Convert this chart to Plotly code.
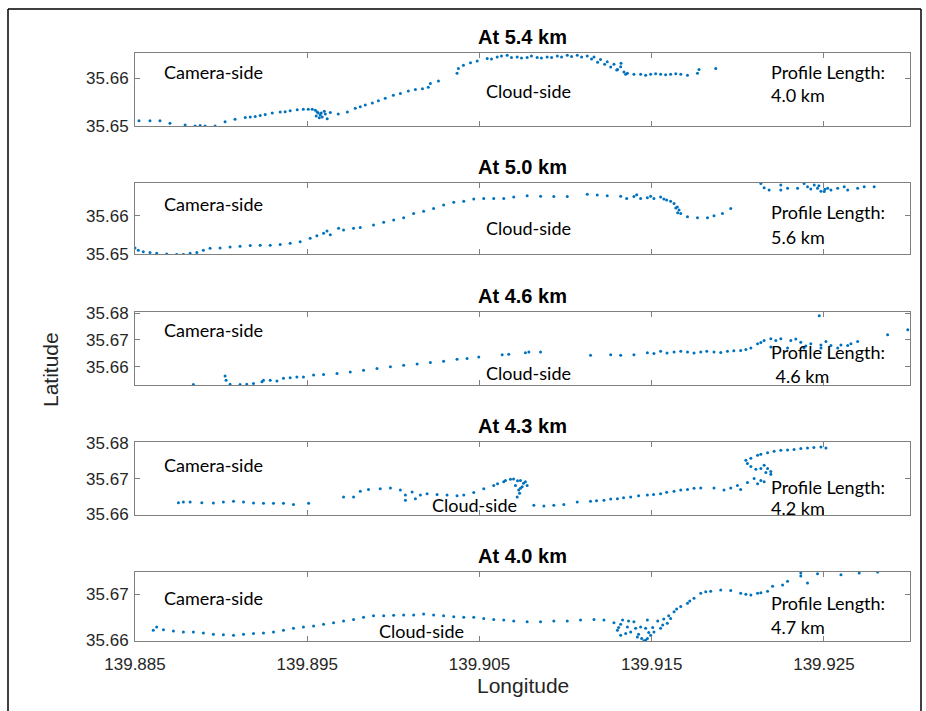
import plotly.graph_objects as go

# ---- scatter points (longitude, latitude) for each altitude slice ----
lon_54 = [139.88523, 139.88587, 139.88645, 139.88703, 139.88791, 139.88849, 139.88878, 139.88907,
          139.88965, 139.89023, 139.89081, 139.89140, 139.89169, 139.89198, 139.89227, 139.89256,
          139.89297, 139.89343, 139.89372, 139.89401, 139.89442, 139.89477, 139.89506, 139.89529,
          139.89547, 139.89558, 139.89564, 139.89576, 139.89587, 139.89605, 139.89634, 139.89680,
          139.89733, 139.89779, 139.89808, 139.89837, 139.89878, 139.89913, 139.89953, 139.90000,
          139.90041, 139.90087, 139.90128, 139.90169, 139.90203, 139.90215, 139.90262, 139.90370,
          139.90378, 139.90407, 139.90448, 139.90487, 139.90545, 139.90603, 139.90661, 139.90719,
          139.90777, 139.90835, 139.90893, 139.90952, 139.91010, 139.91068, 139.91126, 139.91165,
          139.91203, 139.91242, 139.91281, 139.91302, 139.91320, 139.91322, 139.91339, 139.91359,
          139.91397, 139.91436, 139.91494, 139.91552, 139.91610, 139.91669, 139.91708, 139.91766,
          139.91775, 139.91872,
          139.90570, 139.90628, 139.90686, 139.90744, 139.90802, 139.90860, 139.90919, 139.90977,
          139.91035, 139.91093, 139.91151, 139.91186, 139.91227, 139.91262, 139.91297, 139.91349,
          139.91465, 139.91523, 139.91581, 139.91640,
          139.89570, 139.89581, 139.89599, 139.89552, 139.89616]
lat_54 = [35.6511, 35.6511, 35.6511, 35.6506, 35.6502, 35.6500, 35.6501, 35.6500,
          35.6500, 35.6509, 35.6514, 35.6518, 35.6519, 35.6520, 35.6522, 35.6524,
          35.6527, 35.6529, 35.6530, 35.6532, 35.6534, 35.6535, 35.6535, 35.6535,
          35.6533, 35.6529, 35.6527, 35.6523, 35.6519, 35.6525, 35.6528, 35.6525,
          35.6529, 35.6537, 35.6540, 35.6544, 35.6548, 35.6553, 35.6558, 35.6564,
          35.6568, 35.6573, 35.6576, 35.6578, 35.6581, 35.6589, 35.6594, 35.6610,
          35.6620, 35.6627, 35.6632, 35.6636, 35.6641, 35.6644, 35.6648, 35.6644,
          35.6643, 35.6643, 35.6644, 35.6646, 35.6648, 35.6648, 35.6646, 35.6644,
          35.6639, 35.6634, 35.6629, 35.6618, 35.6624, 35.6631, 35.6613, 35.6610,
          35.6608, 35.6608, 35.6608, 35.6608, 35.6608, 35.6608, 35.6606, 35.6610,
          35.6618, 35.6620,
          35.6640, 35.6646, 35.6643, 35.6642, 35.6646, 35.6642, 35.6643, 35.6644,
          35.6645, 35.6644, 35.6640, 35.6633, 35.6629, 35.6623, 35.6617, 35.6608,
          35.6606, 35.6609, 35.6607, 35.6609,
          35.6517, 35.6527, 35.6531, 35.6521, 35.6515]

lon_50 = [139.88500, 139.88519, 139.88548, 139.88587, 139.88626, 139.88684, 139.88742, 139.88781,
          139.88820, 139.88859, 139.88897, 139.88936, 139.88994, 139.89052, 139.89110, 139.89169,
          139.89227, 139.89285, 139.89343, 139.89401, 139.89459, 139.89517, 139.89556, 139.89595,
          139.89615, 139.89634, 139.89682, 139.89711, 139.89769, 139.89808, 139.89885, 139.89944,
          139.90002, 139.90060, 139.90118, 139.90176, 139.90234, 139.90292, 139.90351, 139.90409,
          139.90467, 139.90525, 139.90583, 139.90641,
          139.90699, 139.90777, 139.90855, 139.90932, 139.91010, 139.91126, 139.91184, 139.91242,
          139.91320, 139.91397, 139.91436, 139.91475, 139.91513, 139.91571, 139.91610, 139.91630,
          139.91649, 139.91659, 139.91669, 139.91708, 139.91766, 139.91824, 139.91862, 139.91911,
          139.91959,
          139.92134, 139.92153, 139.92182, 139.92250, 139.92250, 139.92289, 139.92347, 139.92385,
          139.92405, 139.92444, 139.92463, 139.92483, 139.92502, 139.92522, 139.92541, 139.92580,
          139.92618, 139.92638, 139.92696, 139.92734, 139.92792,
          139.91355, 139.91413, 139.91494, 139.91552, 139.91587, 139.91640, 139.91651,
          139.92424, 139.92471, 139.92506]
lat_50 = [35.6516, 35.6510, 35.6506, 35.6504, 35.6502, 35.6500, 35.6499, 35.6499,
          35.6502, 35.6504, 35.6510, 35.6515, 35.6516, 35.6518, 35.6520, 35.6522,
          35.6523, 35.6523, 35.6525, 35.6528, 35.6532, 35.6541, 35.6548, 35.6554,
          35.6560, 35.6550, 35.6567, 35.6563, 35.6567, 35.6569, 35.6576, 35.6583,
          35.6589, 35.6595, 35.6606, 35.6612, 35.6619, 35.6628, 35.6635, 35.6638,
          35.6644, 35.6645, 35.6645, 35.6645,
          35.6649, 35.6652, 35.6651, 35.6650, 35.6650, 35.6656, 35.6654, 35.6652,
          35.6651, 35.6650, 35.6645, 35.6647, 35.6645, 35.6644, 35.6638, 35.6632,
          35.6623, 35.6615, 35.6606, 35.6597, 35.6595, 35.6595, 35.6600, 35.6606,
          35.6619,
          35.6684, 35.6673, 35.6667, 35.6680, 35.6667, 35.6672, 35.6672, 35.6684,
          35.6676, 35.6680, 35.6672, 35.6664, 35.6663, 35.6672, 35.6667, 35.6672,
          35.6676, 35.6667, 35.6672, 35.6676, 35.6676,
          35.6645, 35.6655, 35.6651, 35.6649, 35.6641, 35.6620, 35.6608,
          35.6670, 35.6678, 35.6669]

lon_46 = [139.88839, 139.89023, 139.89029, 139.89052, 139.89110, 139.89149, 139.89188, 139.89237,
          139.89246, 139.89285, 139.89324, 139.89362, 139.89401, 139.89440, 139.89478, 139.89537,
          139.89595, 139.89673, 139.89750, 139.89827, 139.89905, 139.89983, 139.90060, 139.90138,
          139.90215, 139.90292, 139.90370, 139.90428, 139.90496, 139.90632, 139.90670, 139.90767,
          139.90787, 139.90855, 139.91145, 139.91262, 139.91320, 139.91397, 139.91475, 139.91552,
          139.91630, 139.91708, 139.91785, 139.91862, 139.91940, 139.92017, 139.92076, 139.92115,
          139.92153, 139.92192, 139.92250, 139.92308, 139.92366, 139.92424, 139.92483, 139.92541,
          139.92599, 139.92657, 139.92696, 139.92473, 139.92870, 139.92987,
          139.92192, 139.92289, 139.92385, 139.92483, 139.92580, 139.92638,
          139.91513, 139.91589, 139.91669, 139.91746, 139.91820, 139.91901, 139.91977, 139.92047,
          139.92134, 139.92221, 139.92337, 139.92395, 139.92512]
lat_46 = [35.6533, 35.6565, 35.6549, 35.6534, 35.6533, 35.6534, 35.6537, 35.6543,
          35.6549, 35.6549, 35.6546, 35.6556, 35.6558, 35.6561, 35.6561, 35.6568,
          35.6570, 35.6574, 35.6580, 35.6586, 35.6593, 35.6599, 35.6605, 35.6610,
          35.6615, 35.6620, 35.6627, 35.6630, 35.6636, 35.6644, 35.6646, 35.6652,
          35.6654, 35.6654, 35.6642, 35.6644, 35.6642, 35.6644, 35.6652, 35.6657,
          35.6654, 35.6654, 35.6654, 35.6654, 35.6657, 35.6660, 35.6669, 35.6685,
          35.6697, 35.6704, 35.6704, 35.6697, 35.6691, 35.6685, 35.6681, 35.6679,
          35.6681, 35.6685, 35.6694, 35.6790, 35.6719, 35.6738,
          35.6673, 35.6669, 35.6669, 35.6669, 35.6669, 35.6679,
          35.6649, 35.6651, 35.6657, 35.6651, 35.6657, 35.6653, 35.6659, 35.6664,
          35.6690, 35.6697, 35.6703, 35.6677, 35.6694]

lon_43 = [139.88752, 139.88781, 139.88820, 139.88888, 139.88955, 139.89013, 139.89072, 139.89130,
          139.89188, 139.89246, 139.89304, 139.89362, 139.89420, 139.89508, 139.89711, 139.89769,
          139.89808, 139.89856, 139.89924, 139.89983, 139.90041, 139.90070, 139.90070, 139.90109,
          139.90128, 139.90157, 139.90196, 139.90254, 139.90312, 139.90370, 139.90409, 139.90467,
          139.90525, 139.90583, 139.90641, 139.90680,
          139.90738, 139.90767, 139.90748, 139.90728, 139.90719, 139.90709, 139.90777,
          139.90816, 139.90874, 139.90932, 139.90990, 139.91068, 139.91145, 139.91223, 139.91301,
          139.91378, 139.91475, 139.91552, 139.91630, 139.91708, 139.91785, 139.91862, 139.91920,
          139.91959, 139.91998, 139.92017, 139.92056, 139.92095, 139.92115, 139.92153,
          139.92134, 139.92153, 139.92173, 139.92192,
          139.92056, 139.92047, 139.92076, 139.92115, 139.92173, 139.92250, 139.92327, 139.92405,
          139.92483, 139.92512,
          139.90605, 139.90651, 139.90698, 139.90721, 139.90756, 139.90738, 139.90733,
          139.92134, 139.92211, 139.92289, 139.92366, 139.92442,
          139.92076, 139.92105, 139.92163, 139.92134, 139.92192,
          139.91180, 139.91262, 139.91337, 139.91424, 139.91511, 139.91587, 139.91669, 139.91746]
lat_43 = [35.6633, 35.6635, 35.6635, 35.6633, 35.6632, 35.6635, 35.6637, 35.6635,
          35.6632, 35.6631, 35.6631, 35.6631, 35.6628, 35.6631, 35.6649, 35.6649,
          35.6665, 35.6670, 35.6672, 35.6674, 35.6668, 35.6654, 35.6640, 35.6663,
          35.6644, 35.6654, 35.6658, 35.6656, 35.6654, 35.6652, 35.6654, 35.6661,
          35.6672, 35.6681, 35.6691, 35.6698,
          35.6695, 35.6691, 35.6677, 35.6668, 35.6649, 35.6681, 35.6681,
          35.6626, 35.6624, 35.6626, 35.6628, 35.6635, 35.6637, 35.6640, 35.6644,
          35.6649, 35.6654, 35.6658, 35.6665, 35.6670, 35.6674, 35.6674, 35.6668,
          35.6674, 35.6681, 35.6670, 35.6689, 35.6700, 35.6686, 35.6691,
          35.6728, 35.6737, 35.6728, 35.6720,
          35.6742, 35.6751, 35.6757, 35.6765, 35.6772, 35.6779, 35.6781, 35.6785,
          35.6788, 35.6785,
          35.6686, 35.6695, 35.6699, 35.6694, 35.6687, 35.6673, 35.6659,
          35.6768, 35.6776, 35.6780, 35.6784, 35.6787,
          35.6734, 35.6726, 35.6717, 35.6695, 35.6712,
          35.6638, 35.6643, 35.6647, 35.6652, 35.6656, 35.6662, 35.6668, 35.6673]

lon_40 = [139.88606, 139.88626, 139.88665, 139.88723, 139.88781, 139.88839, 139.88897, 139.88955,
          139.89013, 139.89072, 139.89130, 139.89188, 139.89246, 139.89304, 139.89362, 139.89420,
          139.89478, 139.89537, 139.89595, 139.89653, 139.89711, 139.89769, 139.89827, 139.89885,
          139.89944, 139.90002, 139.90060, 139.90118, 139.90176, 139.90234, 139.90292, 139.90351,
          139.90409, 139.90467, 139.90525, 139.90583, 139.90641, 139.90699, 139.90777, 139.90855,
          139.90932, 139.91010, 139.91087, 139.91165, 139.91223, 139.91281, 139.91320, 139.91301,
          139.91320, 139.91359, 139.91378, 139.91397, 139.91417, 139.91436, 139.91455, 139.91475,
          139.91475, 139.91494, 139.91513, 139.91552, 139.91591, 139.91610, 139.91630, 139.91669,
          139.91708, 139.91746, 139.91785, 139.91843, 139.91901, 139.91959, 139.92017, 139.92076,
          139.92115, 139.92173, 139.92202, 139.92260, 139.92289, 139.92366, 139.92366, 139.92405,
          139.92463, 139.92599, 139.92705, 139.92812,
          139.91349, 139.91366, 139.91407, 139.91424, 139.91442, 139.91465, 139.91483, 139.91506,
          139.91535, 139.91564, 139.91308, 139.91331, 139.91465, 139.91570, 139.91599, 139.91645,
          139.91721, 139.91814, 139.92047, 139.92134]
lat_40 = [35.6622, 35.6629, 35.6623, 35.6620, 35.6618, 35.6618, 35.6616, 35.6613,
          35.6612, 35.6611, 35.6613, 35.6615, 35.6616, 35.6618, 35.6622, 35.6626,
          35.6629, 35.6631, 35.6635, 35.6638, 35.6642, 35.6645, 35.6650, 35.6653,
          35.6653, 35.6654, 35.6655, 35.6655, 35.6657, 35.6655, 35.6653, 35.6651,
          35.6650, 35.6650, 35.6647, 35.6645, 35.6644, 35.6642, 35.6640, 35.6640,
          35.6642, 35.6642, 35.6644, 35.6645, 35.6644, 35.6638, 35.6635, 35.6622,
          35.6611, 35.6629, 35.6618, 35.6640, 35.6607, 35.6629, 35.6599, 35.6644,
          35.6604, 35.6611, 35.6618, 35.6626, 35.6637, 35.6647, 35.6662, 35.6673,
          35.6680, 35.6691, 35.6702, 35.6706, 35.6709, 35.6708, 35.6702, 35.6698,
          35.6702, 35.6706, 35.6717, 35.6720, 35.6728, 35.6739, 35.6746, 35.6724,
          35.6744, 35.6742, 35.6746, 35.6748,
          35.6615, 35.6642, 35.6626, 35.6613, 35.6604, 35.6600, 35.6617, 35.6628,
          35.6642, 35.6633, 35.6628, 35.6644, 35.6626, 35.6646, 35.6653, 35.6668,
          35.6685, 35.6705, 35.6700, 35.6703]

titles = ["At 5.4 km", "At 5.0 km", "At 4.6 km", "At 4.3 km", "At 4.0 km"]
profile_lengths = ["4.0 km", "5.6 km", " 4.6 km", "4.2 km", "4.7 km"]
lat_ranges = [[35.6500, 35.66525], [35.6500, 35.66855], [35.6531, 35.6804],
              [35.6600, 35.6802], [35.65985, 35.6749]]
lat_ticks = [[35.65, 35.66], [35.65, 35.66], [35.66, 35.67, 35.68],
             [35.66, 35.67, 35.68], [35.66, 35.67]]
lon_ticks = [139.885, 139.895, 139.905, 139.915, 139.925]
lon_range = [139.885, 139.930]

panels = [(lon_54, lat_54), (lon_50, lat_50), (lon_46, lat_46), (lon_43, lat_43), (lon_40, lat_40)]

# ---- page geometry (pixels) ----
W, H = 926, 711
plot_left, plot_right = 135, 910
panel_px = [(53, 126), (183, 254), (312, 385), (442, 514.5), (571.5, 641)]
# label anchors per panel: camera-side y, cloud-side (x, y), profile title y, profile value (x, y)
label_px = [
    (71.7, (484, 90.7), 71.7, (769, 95.0)),
    (204.3, (484, 228.3), 212.3, (769, 236.7)),
    (330.0, (484, 373.3), 351.7, (769, 375.7)),
    (465.0, (430, 505.0), 486.7, (769, 508.3)),
    (597.7, (377, 630.7), 603.3, (769, 626.7)),
]

BLUE = "#0072BD"
AXIS_GRAY = "#808080"
TICK_FONT = dict(family="Liberation Sans, Arial, sans-serif", size=17, color="#262626")
NOTE_FONT = dict(family="Lato, sans-serif", size=18, color="#000000")


def px_x(x):
    return x / W


def px_y(y):
    return 1 - y / H


fig = go.Figure()
layout = dict(
    template="none",
    width=W, height=H, autosize=False,
    margin=dict(l=0, r=0, t=0, b=0, pad=0),
    paper_bgcolor="white", plot_bgcolor="white",
    showlegend=False,
)

annotations = []
for i, (lons, lats) in enumerate(panels):
    n = i + 1
    xa = "x" if n == 1 else f"x{n}"
    ya = "y" if n == 1 else f"y{n}"
    fig.add_trace(go.Scatter(
        x=lons, y=lats, mode="markers", xaxis=xa, yaxis=ya,
        marker=dict(size=3, color=BLUE, line=dict(width=0)),
        hoverinfo="skip", cliponaxis=True,
    ))
    top, bot = panel_px[i]
    last = (i == len(panels) - 1)
    layout["xaxis" if n == 1 else f"xaxis{n}"] = dict(
        domain=[px_x(plot_left), px_x(plot_right)],
        anchor=ya, range=lon_range, automargin=False,
        tickvals=lon_ticks, ticktext=[f"{v:.3f}" for v in lon_ticks],
        showticklabels=last, tickfont=TICK_FONT, ticklabelstandoff=8,
        ticks="inside", ticklen=5, tickcolor=AXIS_GRAY, tickwidth=1,
        showline=True, linecolor=AXIS_GRAY, linewidth=1, mirror="ticks",
        showgrid=False, zeroline=False, fixedrange=True,
    )
    layout["yaxis" if n == 1 else f"yaxis{n}"] = dict(
        domain=[px_y(bot), px_y(top)],
        anchor=xa, range=lat_ranges[i], automargin=False,
        tickvals=lat_ticks[i], ticktext=[f"{v:.2f}" for v in lat_ticks[i]],
        tickfont=TICK_FONT, ticklabelstandoff=2,
        ticks="inside", ticklen=5, tickcolor=AXIS_GRAY, tickwidth=1,
        showline=True, linecolor=AXIS_GRAY, linewidth=1, mirror="ticks",
        showgrid=False, zeroline=False, fixedrange=True,
    )
    # panel title
    annotations.append(dict(
        text=f"<b>{titles[i]}</b>", xref="paper", yref="paper",
        x=px_x((plot_left + plot_right) / 2), y=px_y(top - 16),
        xanchor="center", yanchor="middle", showarrow=False,
        font=dict(family="Liberation Sans, Arial, sans-serif", size=20, color="#000000"),
    ))
    cam_y, (cloud_x, cloud_y), prof_y, (val_x, val_y) = label_px[i]
    for txt, x, y in [("Camera-side", 162, cam_y), ("Cloud-side", cloud_x, cloud_y),
                      ("Profile Length:", 769, prof_y), (profile_lengths[i], val_x, val_y)]:
        annotations.append(dict(
            text=txt.replace(" ", "&nbsp;") if txt.startswith(" ") else txt,
            xref="paper", yref="paper", x=px_x(x), y=px_y(y),
            xanchor="left", yanchor="middle", showarrow=False, font=NOTE_FONT,
        ))

# axis titles
annotations.append(dict(
    text="Longitude", xref="paper", yref="paper",
    x=px_x((plot_left + plot_right) / 2), y=px_y(685), xanchor="center", yanchor="middle",
    showarrow=False, font=dict(family="Liberation Sans, Arial, sans-serif", size=21, color="#262626"),
))
annotations.append(dict(
    text="Latitude", xref="paper", yref="paper", textangle=-90,
    x=px_x(50), y=px_y(370), xanchor="center", yanchor="middle",
    showarrow=False, font=dict(family="Liberation Sans, Arial, sans-serif", size=21, color="#262626"),
))

layout["annotations"] = annotations

# outer frame around the figure
frame = dict(type="line", xref="paper", yref="paper", line=dict(color="#000000", width=1.5))
layout["shapes"] = [
    dict(frame, x0=px_x(8), x1=px_x(921), y0=px_y(9), y1=px_y(9)),
    dict(frame, x0=px_x(8), x1=px_x(8), y0=px_y(9), y1=0),
    dict(frame, x0=px_x(921), x1=px_x(921), y0=px_y(9), y1=0),
]

fig.update_layout(**layout)
fig.write_html("out.html")
